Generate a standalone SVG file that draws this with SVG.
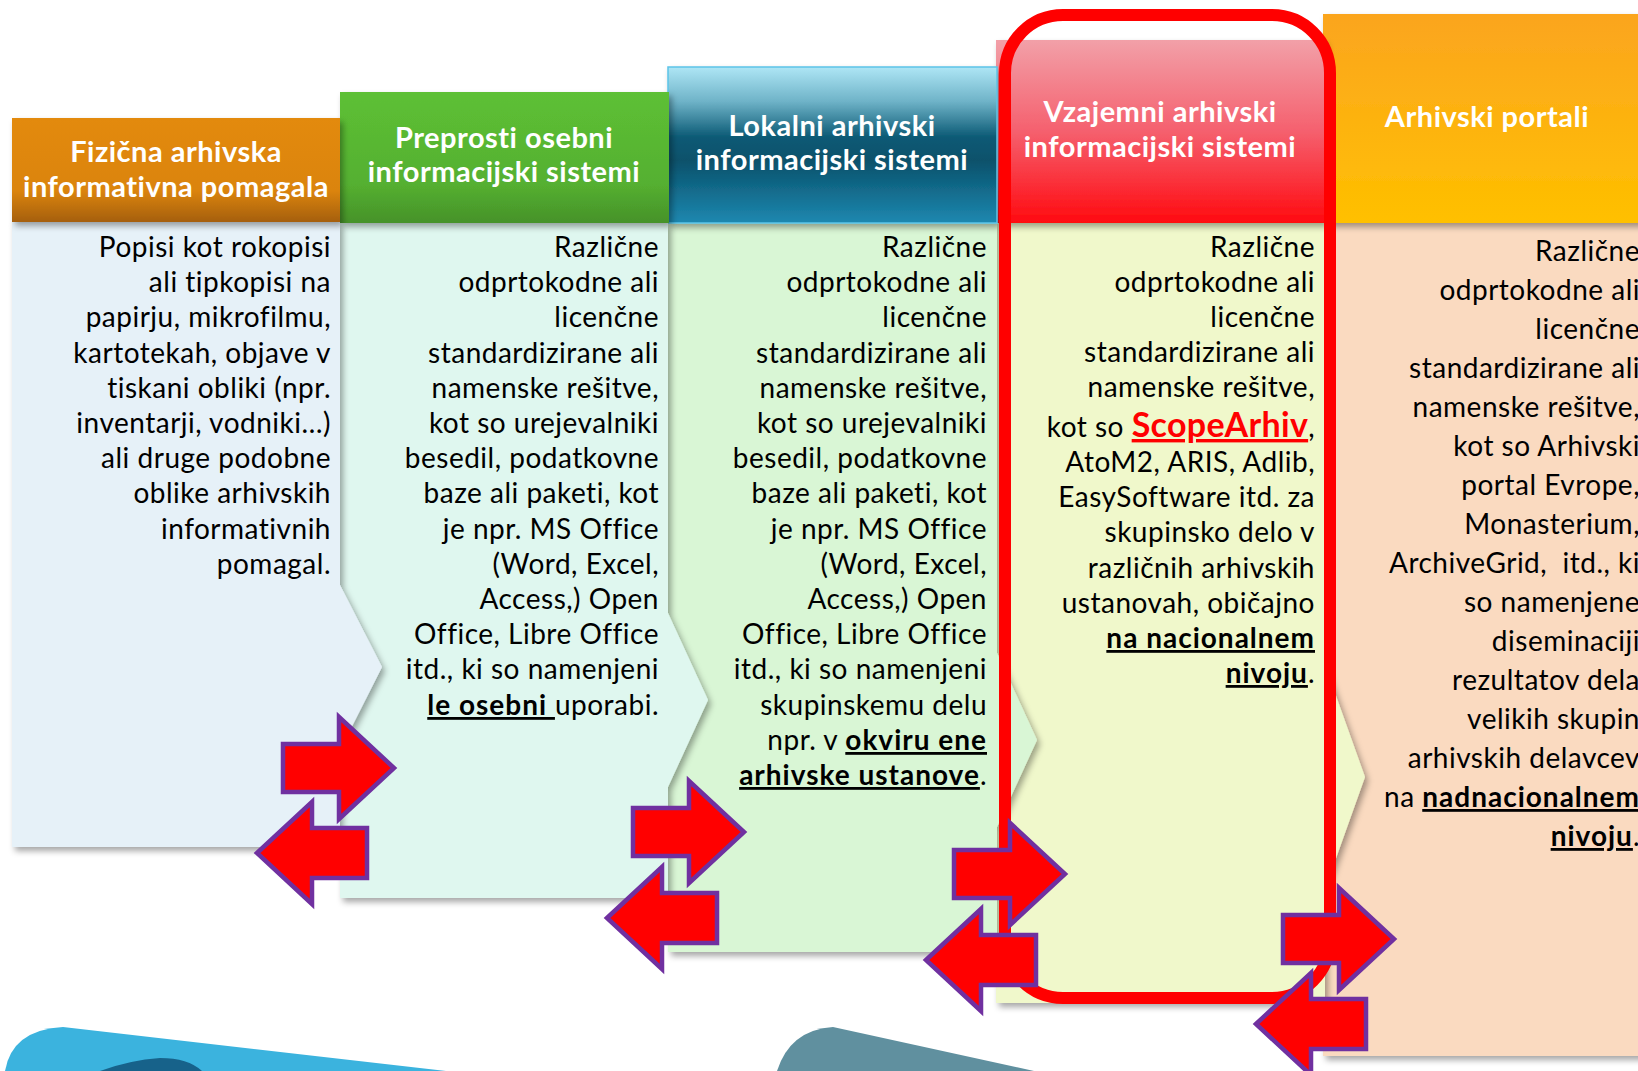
<svg xmlns="http://www.w3.org/2000/svg" width="1638" height="1071" viewBox="0 0 1638 1071">
<style>
.hd{font-family:Lato,"Liberation Sans",sans-serif;font-weight:700;font-size:29px;letter-spacing:0.5px;fill:#fff;text-anchor:middle}
.bt{font-family:Lato,"Liberation Sans",sans-serif;font-size:28px;letter-spacing:0.5px;fill:#000;text-anchor:end}
.b{font-weight:700;text-decoration:underline;letter-spacing:1px}
.sa{font-weight:700;text-decoration:underline;fill:#ff0000;font-size:34px;letter-spacing:0.3px}
.arr{fill:#ff0000;stroke:#7030a0;stroke-width:4.5;stroke-linejoin:miter}
</style>
<defs>
<filter id="sh" x="-10%" y="-10%" width="125%" height="125%"><feDropShadow dx="3" dy="4" stdDeviation="3" flood-color="#000" flood-opacity="0.35"/></filter>
<linearGradient id="g1" x1="0" y1="0" x2="0" y2="1"><stop offset="0" stop-color="#e38a0c"/><stop offset="0.7" stop-color="#db8409"/><stop offset="1" stop-color="#a55f0f"/></linearGradient>
<linearGradient id="g2" x1="0" y1="0" x2="0" y2="1"><stop offset="0" stop-color="#5dc035"/><stop offset="0.7" stop-color="#55b030"/><stop offset="1" stop-color="#46922a"/></linearGradient>
<linearGradient id="g3" x1="0" y1="0" x2="0" y2="1"><stop offset="0" stop-color="#aee6f5"/><stop offset="0.22" stop-color="#6fb3c8"/><stop offset="0.45" stop-color="#0b5a75"/><stop offset="0.6" stop-color="#08516b"/><stop offset="1" stop-color="#1e88b0"/></linearGradient>
<linearGradient id="g4" x1="0" y1="0" x2="0" y2="1"><stop offset="0" stop-color="#f2a0a8"/><stop offset="0.5" stop-color="#f5606e"/><stop offset="1" stop-color="#ff0a10"/></linearGradient>
<linearGradient id="g5" x1="0" y1="0" x2="0" y2="1"><stop offset="0" stop-color="#fba51f"/><stop offset="1" stop-color="#ffc000"/></linearGradient>
<path id="ar" d="M0,-24 H56 V-51 L111,0 L56,51 V24 H0 Z"/>
<path id="al" d="M0,0 L55,-51 V-25 H110 V25 H55 V51 Z"/>
</defs>
<rect width="1638" height="1071" fill="#fff"/>

<g id="bottom-shapes">
<path d="M5,1071 Q12,1030 63,1027 L446,1071 Z" fill="#3bb3de"/>
<path d="M100,1071 Q130,1060 160,1058 Q188,1058 202,1071 Z" fill="#17628a"/>
<path d="M777,1071 Q790,1030 833,1027 L1034,1071 Z" fill="#60909f"/>
</g>

<g id="col5">
<path d="M1323,223 H1660 V1056 H1323 Z" fill="#fadac0" filter="url(#sh)"/>
<rect x="1323" y="14" width="340" height="209" fill="url(#g5)" filter="url(#sh)"/>
<text class="hd" x="1487" y="127">Arhivski portali</text>
<text class="bt" x="1640" y="261">Različne</text>
<text class="bt" x="1640" y="300">odprtokodne ali</text>
<text class="bt" x="1640" y="339">licenčne</text>
<text class="bt" x="1640" y="378">standardizirane ali</text>
<text class="bt" x="1640" y="417">namenske rešitve,</text>
<text class="bt" x="1640" y="456">kot so Arhivski</text>
<text class="bt" x="1640" y="495">portal Evrope,</text>
<text class="bt" x="1640" y="534">Monasterium,</text>
<text class="bt" x="1640" y="573" xml:space="preserve">ArchiveGrid,  itd., ki</text>
<text class="bt" x="1640" y="612">so namenjene</text>
<text class="bt" x="1640" y="651">diseminaciji</text>
<text class="bt" x="1640" y="690">rezultatov dela</text>
<text class="bt" x="1640" y="729">velikih skupin</text>
<text class="bt" x="1640" y="768">arhivskih delavcev</text>
<text class="bt" x="1640" y="807">na <tspan class="b">nadnacionalnem</tspan></text>
<text class="bt" x="1640" y="846"><tspan class="b">nivoju</tspan>.</text>
</g>

<g id="col4">
<path d="M996,223 H1325 V665 L1365,777 L1325,889 V1003 H996 Z" fill="#f0f8cb" filter="url(#sh)"/>
<rect x="996" y="40" width="329" height="183" fill="url(#g4)" filter="url(#sh)"/>
<text class="hd" x="1160" y="122">Vzajemni arhivski</text>
<text class="hd" x="1160" y="157">informacijski sistemi</text>
<text class="bt" x="1315" y="257">Različne</text>
<text class="bt" x="1315" y="292">odprtokodne ali</text>
<text class="bt" x="1315" y="327">licenčne</text>
<text class="bt" x="1315" y="362">standardizirane ali</text>
<text class="bt" x="1315" y="397">namenske rešitve,</text>
<text class="bt" x="1315" y="437">kot so <tspan class="sa">ScopeArhiv</tspan>,</text>
<text class="bt" x="1315" y="472">AtoM2, ARIS, Adlib,</text>
<text class="bt" x="1315" y="507">EasySoftware itd. za</text>
<text class="bt" x="1315" y="542">skupinsko delo v</text>
<text class="bt" x="1315" y="578">različnih arhivskih</text>
<text class="bt" x="1315" y="613">ustanovah, običajno</text>
<text class="bt" x="1315" y="648"><tspan class="b">na nacionalnem</tspan></text>
<text class="bt" x="1315" y="683"><tspan class="b">nivoju</tspan>.</text>
</g>

<g id="col3">
<path d="M668,223 H997 V653 L1037,740 L997,827 V952 H668 Z" fill="#d9f6d5" filter="url(#sh)"/>
<rect x="668" y="67" width="329" height="156" fill="url(#g3)" stroke="#5cc4e8" stroke-width="1.5" filter="url(#sh)"/>
<text class="hd" x="832" y="136">Lokalni arhivski</text>
<text class="hd" x="832" y="170">informacijski sistemi</text>
<text class="bt" x="987" y="257">Različne</text>
<text class="bt" x="987" y="292">odprtokodne ali</text>
<text class="bt" x="987" y="327">licenčne</text>
<text class="bt" x="987" y="363">standardizirane ali</text>
<text class="bt" x="987" y="398">namenske rešitve,</text>
<text class="bt" x="987" y="433">kot so urejevalniki</text>
<text class="bt" x="987" y="468">besedil, podatkovne</text>
<text class="bt" x="987" y="503">baze ali paketi, kot</text>
<text class="bt" x="987" y="539">je npr. MS Office</text>
<text class="bt" x="987" y="574">(Word, Excel,</text>
<text class="bt" x="987" y="609">Access,) Open</text>
<text class="bt" x="987" y="644">Office, Libre Office</text>
<text class="bt" x="987" y="679">itd., ki so namenjeni</text>
<text class="bt" x="987" y="715">skupinskemu delu</text>
<text class="bt" x="987" y="750">npr. v <tspan class="b">okviru ene</tspan></text>
<text class="bt" x="987" y="785"><tspan class="b">arhivske ustanove</tspan>.</text>
</g>

<g id="col2">
<path d="M340,223 H668 V613 L708,700 L668,787 V898 H340 Z" fill="#dff7ef" filter="url(#sh)"/>
<rect x="340" y="92" width="329" height="131" fill="url(#g2)" filter="url(#sh)"/>
<text class="hd" x="504" y="148">Preprosti osebni</text>
<text class="hd" x="504" y="182">informacijski sistemi</text>
<text class="bt" x="659" y="257">Različne</text>
<text class="bt" x="659" y="292">odprtokodne ali</text>
<text class="bt" x="659" y="327">licenčne</text>
<text class="bt" x="659" y="363">standardizirane ali</text>
<text class="bt" x="659" y="398">namenske rešitve,</text>
<text class="bt" x="659" y="433">kot so urejevalniki</text>
<text class="bt" x="659" y="468">besedil, podatkovne</text>
<text class="bt" x="659" y="503">baze ali paketi, kot</text>
<text class="bt" x="659" y="539">je npr. MS Office</text>
<text class="bt" x="659" y="574">(Word, Excel,</text>
<text class="bt" x="659" y="609">Access,) Open</text>
<text class="bt" x="659" y="644">Office, Libre Office</text>
<text class="bt" x="659" y="679">itd., ki so namenjeni</text>
<text class="bt" x="659" y="715" xml:space="preserve"><tspan class="b">le osebni </tspan>uporabi.</text>
</g>

<g id="col1">
<path d="M12,222 H340 V585 L382,667 L340,750 V847 H12 Z" fill="#e6f1f8" filter="url(#sh)"/>
<rect x="12" y="118" width="328" height="104" fill="url(#g1)" filter="url(#sh)"/>
<text class="hd" x="176" y="162">Fizična arhivska</text>
<text class="hd" x="176" y="197">informativna pomagala</text>
<text class="bt" x="331" y="257">Popisi kot rokopisi</text>
<text class="bt" x="331" y="292">ali tipkopisi na</text>
<text class="bt" x="331" y="327">papirju, mikrofilmu,</text>
<text class="bt" x="331" y="363">kartotekah, objave v</text>
<text class="bt" x="331" y="398">tiskani obliki (npr.</text>
<text class="bt" x="331" y="433">inventarji, vodniki…)</text>
<text class="bt" x="331" y="468">ali druge podobne</text>
<text class="bt" x="331" y="503">oblike arhivskih</text>
<text class="bt" x="331" y="539">informativnih</text>
<text class="bt" x="331" y="574">pomagal.</text>
</g>

<g id="highlight">
<rect x="1005" y="15" width="325" height="983" rx="58" ry="58" fill="none" stroke="#ff0000" stroke-width="12"/>
</g>

<g id="connectors">
<use href="#ar" class="arr" transform="translate(283,768)"/>
<use href="#al" class="arr" transform="translate(257,853)"/>
<use href="#ar" class="arr" transform="translate(633,832)"/>
<use href="#al" class="arr" transform="translate(607,918)"/>
<use href="#ar" class="arr" transform="translate(954,874)"/>
<use href="#al" class="arr" transform="translate(926,960)"/>
<use href="#ar" class="arr" transform="translate(1283,939)"/>
<use href="#al" class="arr" transform="translate(1256,1024)"/>
</g>
</svg>
